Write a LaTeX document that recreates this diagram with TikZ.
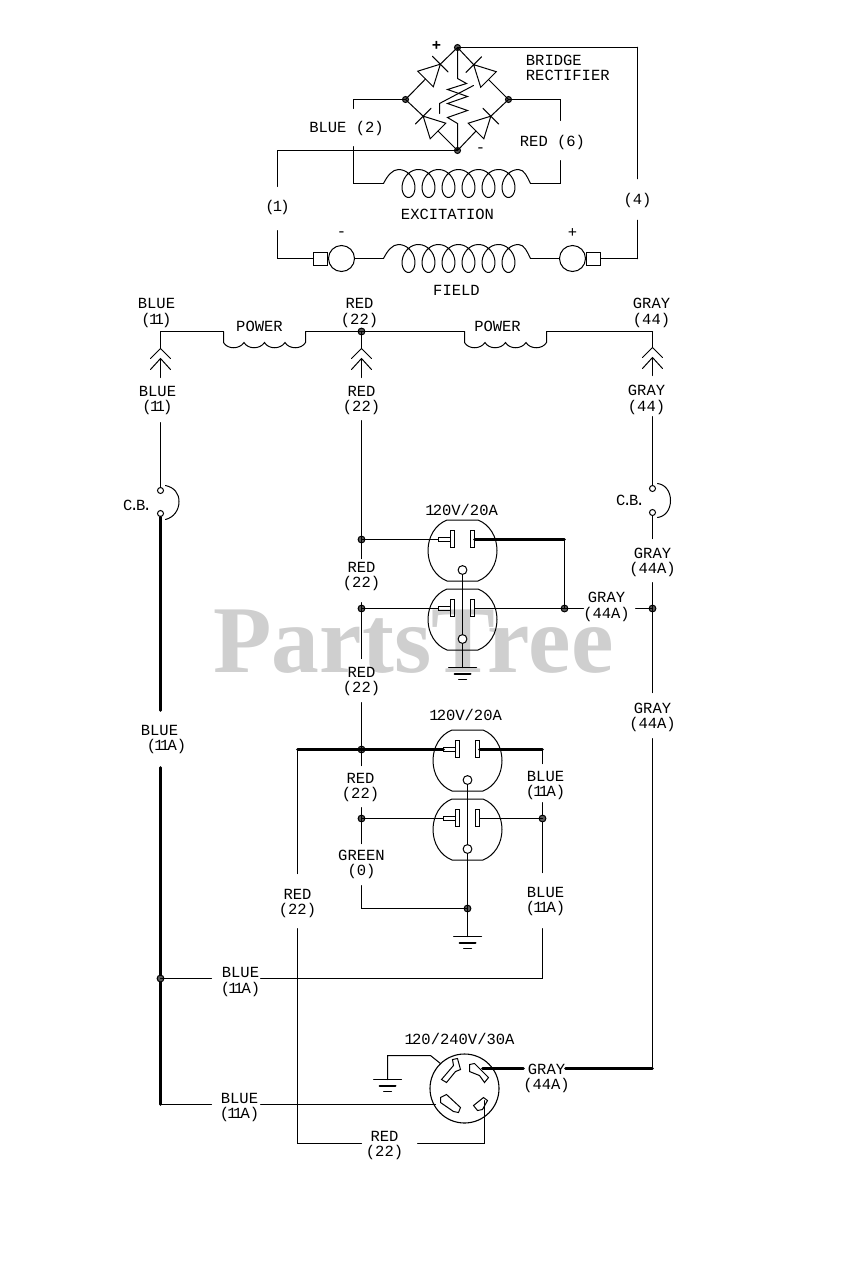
\documentclass[tikz,border=0pt]{standalone}
\usepackage{fontspec}
\setmonofont{Liberation Mono}
\newfontfamily\wmfont{Liberation Serif}
\newcommand{\lblfont}{\fontsize{7.75}{7.6}\selectfont\ttfamily}
\newcommand{\one}{\kern-0.9pt 1\kern-0.9pt}
\newcommand{\cbtext}{C\kern-1.4pt.\kern-1.4pt B\kern-1.4pt.}
\tikzset{
  wire/.style={line width=0.5pt,line cap=round,line join=miter},
  midwire/.style={line width=0.85pt,line cap=round},
  heavy/.style={line width=1.4pt,line cap=round},
  lbl/.style={font=\lblfont,inner sep=0pt,align=center,text=black},
  two/.style={lbl,yshift=-0.75pt},
  junc/.style={circle,draw=black,fill=black!65,line width=0.5pt,inner sep=0pt,minimum size=3.4pt},
  hole/.style={circle,draw=black,fill=white,line width=0.5pt,inner sep=0pt,minimum size=3.4pt},
  outlet/.pic={
    \draw[wire] (-15.5,-30.5) -- (15.5,-30.5) .. controls (27,-26) and (34.5,-14) .. (34.5,0)
      .. controls (34.5,14) and (27,26) .. (15.5,30.5) -- (-15.5,30.5)
      .. controls (-27,26) and (-34.5,14) .. (-34.5,0) .. controls (-34.5,-14) and (-27,-26) .. (-15.5,-30.5) -- cycle;
    \draw[wire] (-12,-20) rectangle (-8,-3);
    \draw[wire] (8,-20) rectangle (12,-3);
    \draw[wire] (-12,-13) -- (-24,-13) -- (-24,-9) -- (-12,-9);
    \coordinate (-hot) at (-24,-11);
    \coordinate (-neu) at (12,-11);
    \node[hole,minimum size=4.4pt] (-gnd) at (0,19.5) {};
  },
  coil/.pic={
    \draw[wire] (-75,0) .. controls (-71,-8) and (-66,-14) .. (-60,-14)
      -- plot[domain=0:37.699,samples=180,smooth] ({-60+20*\x/6.2832+11*sin(\x r)},{-14*cos(\x r)})
      .. controls (66,-14) and (69,-6) .. (72,0);
    \coordinate (-l) at (-75,0);
    \coordinate (-r) at (72,0);
  },
  power/.pic={
    \draw[wire] (0,0) -- (0,11)
      .. controls (4,18) and (16,18) .. (20.5,11)
      .. controls (24.5,18) and (36.5,18) .. (41,11)
      .. controls (45,18) and (57,18) .. (61.5,11)
      .. controls (65.5,18) and (78,18) .. (82,11) -- (82,0);
    \coordinate (-l) at (0,0);
    \coordinate (-r) at (82,0);
  },
  chev/.pic={
    \draw[wire] (-10,10) -- (0,0) -- (10,10);
    \draw[wire] (-10,21) -- (0,10) -- (10,21);
    \coordinate (-t) at (0,0);
    \coordinate (-b) at (0,10);
  },
  earth/.pic={
    \draw[wire] (-14,0) -- (14,0);
    \draw[wire,line width=1pt] (-8,6) -- (8,6);
    \draw[wire] (-4,12) -- (4,12);
    \coordinate (-t) at (0,0);
  }
}
\begin{document}
\begin{tikzpicture}[x=0.5pt,y=-0.5pt]
\useasboundingbox (-0.5,-0.5) rectangle (843.5,1279.5);
\fill[white] (-0.5,-0.5) rectangle (843.5,1279.5);
% watermark
\node[font=\wmfont\bfseries\fontsize{47.8}{47.8}\selectfont,text=black!19,inner sep=0pt,anchor=base] (wm) at (413,672) {PartsTree};

% ---------- bridge rectifier
\node[junc,minimum size=3pt] (jt) at (457,47) {};
\node[junc,minimum size=3pt] (jl) at (405,99) {};
\node[junc,minimum size=3pt] (jr) at (508,99) {};
\node[junc,minimum size=3pt] (jb) at (457,150) {};
% diodes: triangle, cathode bar
\coordinate (d1b) at (425,78.5);     \coordinate (d1a) at (439.85,63.65);
\coordinate (d2b) at (488,79);       \coordinate (d2a) at (473.15,64.15);
\coordinate (d3b) at (437.5,130.5);  \coordinate (d3a) at (422.65,115.65);
\coordinate (d4b) at (475.5,130.5);  \coordinate (d4a) at (490.35,115.65);
\draw[wire] (417.2,70.7) -- (432.8,86.3) -- (d1a) -- cycle (432,55.8) -- (447.6,71.4);
\draw[wire] (495.8,71.2) -- (480.2,86.8) -- (d2a) -- cycle (480.95,56.35) -- (465.35,71.95);
\draw[wire] (445.3,122.7) -- (429.7,138.3) -- (d3a) -- cycle (430.45,107.85) -- (414.85,123.45);
\draw[wire] (467.7,122.7) -- (483.3,138.3) -- (d4a) -- cycle (482.55,107.85) -- (498.15,123.45);
\draw[wire] (jl.center) -- (d1b);
\draw[wire] (d1a) -- (jt.center);
\draw[wire] (jr.center) -- (d2b);
\draw[wire] (d2a) -- (jt.center);
\draw[wire] (jb.center) -- (d3b);
\draw[wire] (d3a) -- (jl.center);
\draw[wire] (jb.center) -- (d4b);
\draw[wire] (d4a) -- (jr.center);
\draw[wire] (jt.center) -- (457,78) -- (466,83) -- (447,89) -- (467,96) -- (447,103) -- (467,110) -- (447,117) -- (457,123) -- (jb.center);
\draw[wire] (439,113) -- (439,103) -- (473,85);
\node[lbl,font=\lblfont\bfseries] (plus1) at (436,45) {+};
\node[lbl] (minus1) at (480,150) {-};
\node[lbl,align=left,anchor=west] (brl) at (525,67.5) {BRIDGE\\RECTIFIER};
\node[lbl] (l2) at (346,128) {BLUE (2)};
\node[lbl] (l6) at (552,142) {RED (6)};
\node[lbl] (l1) at (277,206.5) {(\one)};
\node[lbl] (l4) at (637,200) {(4)};
\node[lbl] (lex) at (447,214) {EXCITATION};
\node[lbl] (lfi) at (456,290) {FIELD};

\pic (cx) at (458,183) {coil};
\pic (cf) at (458,258) {coil};
\coordinate (bu) at (353,108);
\coordinate (bd) at (353,146);
\coordinate (ru) at (560,120);
\coordinate (rd) at (560,160);
\draw[wire] (jl.center) -| (bu);
\draw[wire] (bd) |- (cx-l);
\draw[wire] (jr.center) -| (ru);
\draw[wire] (rd) |- (cx-r);

\node[draw,line width=0.5pt,circle,inner sep=0pt,minimum size=13pt,fill=white] (m1) at (341,258) {};
\node[draw,line width=0.5pt,circle,inner sep=0pt,minimum size=13pt,fill=white] (m2) at (572,258) {};
\node[draw,line width=0.5pt,inner sep=0pt,minimum width=7pt,minimum height=6.5pt,anchor=east] (b1) at (m1.west) {};
\node[draw,line width=0.5pt,inner sep=0pt,minimum width=7pt,minimum height=6.5pt,anchor=west] (b2) at (m2.east) {};
\node[lbl] (mm) at (341,234) {-};
\node[lbl] (mp) at (572,233) {+};
\draw[wire] (m1.east) -- (cf-l);
\draw[wire] (cf-r) -- (m2.west);
\coordinate (w1a) at (277,186);
\coordinate (w1b) at (277,230);
\draw[wire] (jb.center) -| (w1a);
\draw[wire] (w1b) |- (b1.west);
\coordinate (w4a) at (637,178);
\coordinate (w4b) at (637,220);
\coordinate (w4c) at (637,47);
\coordinate (w4d) at (637,258);
\draw[wire] (jt.center) -- (w4c);
\draw[midwire] (w4c) -- (w4a);
\draw[midwire] (w4b) -- (w4d);
\draw[wire] (w4d) -- (b2.east);

% ---------- stator windings
\node[junc] (jred) at (361,331) {};
\pic (p1) at (223,331) {power};
\pic (p2) at (464,331) {power};
\coordinate (wbl) at (160,331);
\coordinate (wgr) at (652,331);
\draw[wire] (wbl) -- (p1-l);
\draw[wire] (p1-r) -- (jred.center);
\draw[wire] (jred.center) -- (p2-l);
\draw[wire] (p2-r) -- (wgr);
\node[lbl] (lp1) at (259,326) {POWER};
\node[lbl] (lp2) at (497,326) {POWER};
\node[two] (t1) at (156,311) {BLUE\\(\one\one)};
\node[two] (t2) at (359,311) {RED\\(22)};
\node[two] (t3) at (651,311) {GRAY\\(44)};
\pic (c1) at (160,348) {chev};
\pic (c2) at (361,348) {chev};
\pic (c3) at (652,347) {chev};
\draw[wire] (wbl) -- (c1-t);
\draw[wire] (jred.center) -- (c2-t);
\draw[wire] (wgr) -- (c3-t);
\coordinate (c1e) at (160,377);
\coordinate (c2e) at (361,377);
\coordinate (c3e) at (652,375);
\draw[wire] (c1-b) -- (c1e);
\draw[wire] (c2-b) -- (c2e);
\draw[wire] (c3-b) -- (c3e);
\node[two] (t4) at (157,398.5) {BLUE\\(\one\one)};
\node[two] (t5) at (361,398.5) {RED\\(22)};
\node[two] (t6) at (646,398) {GRAY\\(44)};

% ---------- circuit breakers
\node[hole,minimum size=3pt] (cb1a) at (160,490) {};
\node[hole,minimum size=3pt] (cb1b) at (160,513) {};
\node[hole,minimum size=3pt] (cb2a) at (652,488) {};
\node[hole,minimum size=3pt] (cb2b) at (652,512) {};
\draw[wire] (165,485) .. controls (174,487) and (178.5,493) .. (178.5,501) .. controls (178.5,510) and (173,517) .. (165,519);
\draw[wire] (657,483) .. controls (665,484) and (670,491) .. (670,500) .. controls (670,509) and (665,516) .. (657,517);
\node[lbl] (cbl1) at (137,505) {\cbtext};
\node[lbl] (cbl2) at (630,500) {\cbtext};
\coordinate (w11) at (160,422);
\coordinate (w44) at (652,416);
\draw[wire] (w11) -- (cb1a.north);
\draw[wire] (w44) -- (cb2a.north);

% ---------- left feed
\coordinate (wa) at (160,710);
\coordinate (wb) at (160,767);
\coordinate (wc) at (160,1104);
\draw[heavy] (cb1b.south) -- (wa);
\draw[heavy] (wb) -- (wc);
\node[two] (l11a) at (159,737.5) {BLUE\\\hspace*{7pt}(\one\one A)};
\node[junc] (j9) at (160,978) {};
\coordinate (h1) at (211,978);
\coordinate (h2) at (260,978);
\coordinate (h3) at (211,1104);
\coordinate (h4) at (260,1104);
\draw[wire] (j9.center) -- (h1);
\draw[wire] (wc) -- (h3);
\node[two] (l11b) at (240,980) {BLUE\\(\one\one A)};
\node[two] (l11c) at (239,1105.5) {BLUE\\(\one\one A)};

% ---------- upper duplex
\pic (o1) at (462,550) {outlet};
\pic (o2) at (462,619) {outlet};
\node[lbl] (r120a) at (462,509) {\one 20V/20A};
\coordinate (v1) at (361,420);
\coordinate (v2) at (361,558);
\coordinate (v3) at (361,602);
\coordinate (v4) at (361,658);
\coordinate (v5) at (361,702);
\coordinate (v6) at (361,765);
\coordinate (v7) at (361,807);
\coordinate (v8) at (361,843);
\coordinate (v9) at (361,885);
\node[junc] (j1) at (361,539) {};
\node[junc] (j2) at (361,608) {};
\node[junc] (j5) at (361,749) {};
\node[junc] (j6) at (361,818) {};
\draw[wire] (v1) -- (v2);
\draw[wire] (v3) -- (v4);
\draw[wire] (v5) -- (v6);
\draw[wire] (v7) -- (v8);
\node[two] (t7) at (361,574.5) {RED\\(22)};
\node[two] (t8) at (361,679.5) {RED\\(22)};
\node[two] (t9) at (360,785.5) {RED\\(22)};
\node[two] (t10) at (361,862.5) {GREEN\\(0)};
\draw[wire] (j1.center) -- (o1-hot);
\draw[wire] (j2.center) -- (o2-hot);
\node[junc] (j3) at (564,608) {};
\node[junc] (j4) at (652,608) {};
\coordinate (g1) at (583,608);
\coordinate (g2) at (635,608);
\coordinate (g3) at (564,539);
\draw[heavy] (o1-neu |- g3) -- (g3);
\draw[wire] (g3) -- (j3.center);
\draw[wire] (o2-neu |- j3) -- (g1);
\draw[wire] (g2) -- (j4.center);
\node[two] (t11) at (606,605) {GRAY\\(44A)};
\draw[wire] (o1-gnd) -- (o2-gnd);
\pic (e1) at (462,667) {earth};
\draw[wire] (o2-gnd) -- (e1-t);

% ---------- right feed
\coordinate (ga) at (652,538);
\coordinate (gb) at (652,582);
\coordinate (gc) at (652,692);
\coordinate (gd) at (652,738);
\coordinate (ge) at (652,1068);
\draw[wire] (cb2b.south) -- (ga);
\draw[wire] (gb) -- (gc);
\draw[wire] (gd) -- (ge);
\node[two] (t12) at (652,560.5) {GRAY\\(44A)};
\node[two] (t13) at (652,715.5) {GRAY\\(44A)};

% ---------- lower duplex
\pic (o3) at (467,760) {outlet};
\pic (o4) at (467,829) {outlet};
\node[lbl] (r120b) at (466,714) {\one 20V/20A};
\coordinate (rc) at (297,749);
\coordinate (rd2) at (297,873);
\coordinate (re) at (297,928);
\coordinate (bc) at (542,749);
\draw[heavy] (rc) -- (o3-hot |- rc);
\draw[heavy] (o3-neu |- bc) -- (bc);
\draw[wire] (rc) -- (rd2);
\node[two] (t14) at (297,901.5) {RED\\(22)};
\node[two] (t15) at (545,783.5) {BLUE\\(\one\one A)};
\node[two] (t16) at (545,899.5) {BLUE\\(\one\one A)};
\coordinate (be) at (542,763);
\coordinate (bf) at (542,802);
\coordinate (bg) at (542,872);
\coordinate (bh) at (542,928);
\draw[wire] (bc) -- (be);
\draw[wire] (bf) -- (bg);
\node[junc] (j7) at (542,818) {};
\draw[wire] (j6.center) -- (o4-hot);
\draw[wire] (o4-neu |- j7) -- (j7.center);
\node[junc] (j8) at (467,908) {};
\draw[wire] (v9) |- (j8.center);
\draw[wire] (o3-gnd) -- (o4-gnd);
\pic (e2) at (467,936) {earth};
\draw[wire] (o4-gnd) -- (e2-t);
\draw[wire] (h2) -| (bh);

% ---------- twist-lock receptacle
\node[draw,line width=0.55pt,circle,inner sep=0pt,minimum size=34.5pt] (tw) at (464,1088) {};
\node[lbl] (r120c) at (460,1038) {\one 20/240V/30A};
\draw[wire] (441,1079) -- (446,1082) -- (455,1071) -- (460,1069) -- (457,1058) -- (452,1059) -- (453,1065) -- cycle;
\draw[wire] (469,1064) -- (474,1063) -- (488,1077) -- (484,1082) -- (479,1075) -- (469,1071) -- cycle;
\draw[wire] (440,1097) -- (446,1094) -- (460,1107) -- (458,1112) -- (453,1111) -- (440,1102) -- cycle;
\draw[wire] (473,1105) -- (483,1097) -- (487,1100) -- (482,1109) -- (477,1110) -- cycle;
\pic (e3) at (387,1079) {earth};
\coordinate (tg1) at (387,1055);
\coordinate (tg2) at (430,1055);
\coordinate (tg3) at (440,1063);
\draw[wire] (e3-t) -- (tg1) -- (tg2) -- (tg3);
\coordinate (tb) at (435,1104);
\draw[wire] (h4) -- (tb);
\coordinate (tr) at (484,1100);
\coordinate (rf) at (361,1143);
\coordinate (rg) at (417,1143);
\draw[wire] (re) |- (rf);
\draw[wire] (rg) -| (tr);
\node[two] (t17) at (384,1143.5) {RED\\(22)};
\coordinate (tga) at (482,1068);
\coordinate (tgb) at (523,1068);
\coordinate (tgc) at (565,1068);
\draw[heavy] (tga) -- (tgb);
\draw[heavy] (tgc) -- (ge);
\node[two] (t18) at (546,1076.5) {GRAY\\(44A)};
\end{tikzpicture}
\end{document}
